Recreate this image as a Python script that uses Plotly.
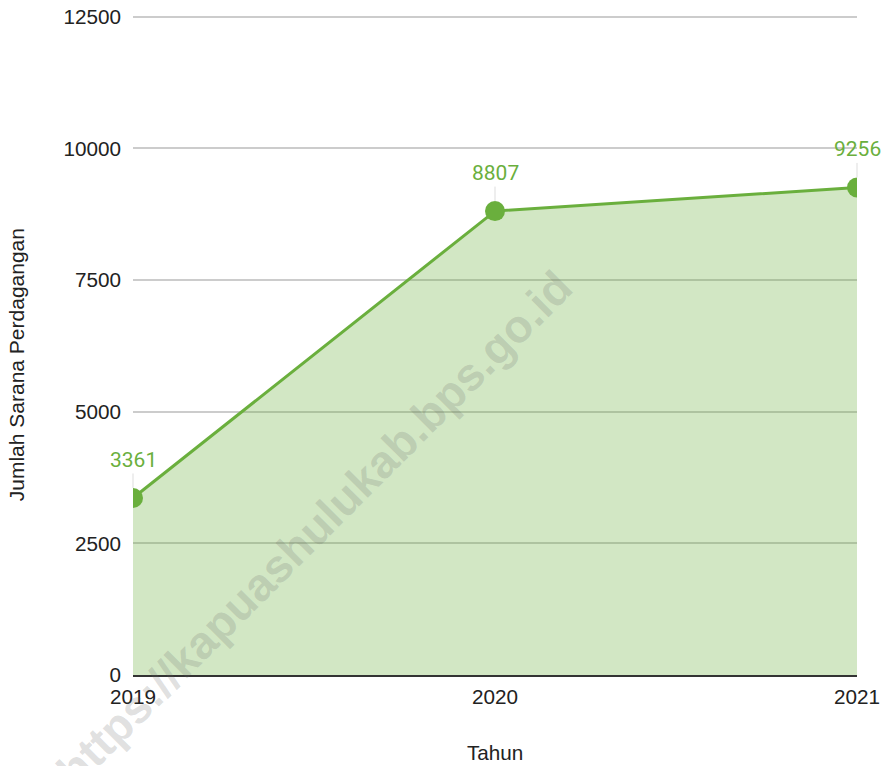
import plotly.graph_objects as go

years = [2019, 2020, 2021]
values = [3361, 8807, 9256]
y_ticks = [0, 2500, 5000, 7500, 10000, 12500]
x_title = "Tahun"
y_title = "Jumlah Sarana Perdagangan"
watermark = "https://kapuashulukab.bps.go.id"

line_color = "#6aaf3d"
tick_font = dict(family="Liberation Sans", size=20.7, color="#222222")

fig = go.Figure()
fig.add_trace(go.Scatter(
    x=years, y=values, mode="lines+markers",
    fill="tozeroy", fillcolor="rgba(106,175,61,0.3)",
    line=dict(color=line_color, width=3),
    marker=dict(color=line_color, size=20),
    hoverinfo="x+y", showlegend=False,
))

annotations = []
for xv, yv in zip(years, values):
    annotations.append(dict(
        x=xv, y=yv, xref="x", yref="y", text=str(yv),
        showarrow=True, arrowhead=0, arrowwidth=1, arrowcolor="#dddddd",
        ax=0, ay=-38, standoff=10,
        font=dict(family="Roboto", size=21, color=line_color),
    ))
# watermark
annotations.append(dict(
    x=0.25, y=0.221, xref="paper", yref="paper", text="<b>" + watermark + "</b>",
    showarrow=False, textangle=-45, xanchor="center", yanchor="middle",
    font=dict(family="Liberation Sans", size=46, color="rgba(100,100,100,0.2)"),
))
# axis titles
annotations.append(dict(
    x=0.5, y=-0.118, xref="paper", yref="paper", text=x_title,
    showarrow=False, xanchor="center", yanchor="middle",
    font=dict(family="Liberation Sans", size=20.7, color="#222222"),
))
annotations.append(dict(
    x=-0.161, y=0.47, xref="paper", yref="paper", text=y_title,
    showarrow=False, xanchor="center", yanchor="middle", textangle=-90,
    font=dict(family="Liberation Sans", size=21, color="#222222"),
))

fig.update_layout(
    width=890, height=766,
    margin=dict(l=133, r=33, t=15, b=91, autoexpand=False),
    paper_bgcolor="white", plot_bgcolor="white",
    font=dict(family="Liberation Sans", size=20.7, color="#222222"),
    annotations=annotations,
    xaxis=dict(
        range=[2019, 2021], tickvals=years, ticktext=[str(y) for y in years],
        showgrid=False, zeroline=False, showline=True, linecolor="#333333", linewidth=2,
        ticks="", ticklabelstandoff=2, automargin=False,
        tickfont=tick_font,
    ),
    yaxis=dict(
        range=[0, 12530], tickvals=y_ticks, ticktext=[str(t) for t in y_ticks],
        showgrid=True, gridcolor="#cccccc", gridwidth=1.5, zeroline=False,
        ticks="", ticklabelstandoff=11, automargin=False,
        tickfont=tick_font,
    ),
)

fig.write_html("out.html", config={"displayModeBar": False},
               post_script="document.body.style.margin='0';")
